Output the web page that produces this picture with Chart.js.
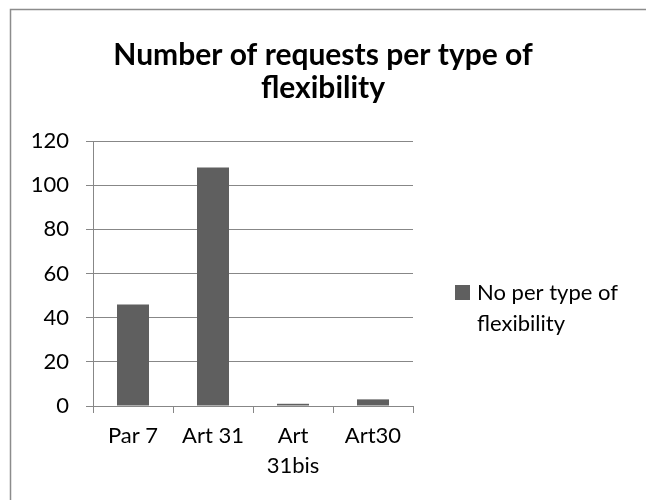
<!DOCTYPE html>
<html>
<head>
<meta charset="utf-8">
<script src="https://cdn.jsdelivr.net/npm/chart.js@4/dist/chart.umd.min.js"></script>
<style>
  html, body { margin: 0; padding: 0; background: #fff; }
  #wrap { position: relative; width: 646px; height: 500px; }
</style>
</head>
<body>
<div id="wrap"><canvas id="chart" width="646" height="500"></canvas></div>
<script>
// Requests per type of flexibility
const categories = [['Par 7'], ['Art 31'], ['Art', '31bis'], ['Art30']];
const requests = [46, 108, 1, 3];
const seriesName = 'No per type of flexibility';
const titleLines = ['Number of requests per type of', 'flexibility'];
const legendLines = ['No per type of', 'flexibility'];
const yTicks = [0, 20, 40, 60, 80, 100, 120];

const FONT = 'Lato, "Open Sans", sans-serif';
const BAR = '#5f5f5f';
const GRID = '#878787';

// Frame lines, title and the side legend
const decorations = {
  id: 'decorations',
  beforeDraw(chart) {
    const ctx = chart.ctx;
    ctx.save();
    ctx.fillStyle = '#fff';
    ctx.fillRect(0, 0, chart.width, chart.height);
    ctx.strokeStyle = '#8c8c8c';
    ctx.lineWidth = 1.5;
    ctx.beginPath();
    ctx.moveTo(10.5, chart.height);
    ctx.lineTo(10.5, 9.5);
    ctx.lineTo(chart.width, 9.5);
    ctx.stroke();
    ctx.restore();
  },
  afterDraw(chart) {
    const ctx = chart.ctx;
    ctx.save();
    ctx.fillStyle = '#000';
    ctx.textAlign = 'center';
    ctx.textBaseline = 'middle';
    ctx.font = 'bold 30px ' + FONT;
    titleLines.forEach((t, i) => ctx.fillText(t, 323, 55 + i * 33));

    const ds = chart.data.datasets[0];
    ctx.fillStyle = ds.backgroundColor;
    ctx.fillRect(455, 285, 15, 15);
    ctx.fillStyle = '#000';
    ctx.textAlign = 'left';
    ctx.font = '22px ' + FONT;
    legendLines.forEach((t, i) => ctx.fillText(t, 477, 293 + i * 31));
    ctx.restore();
  }
};

new Chart(document.getElementById('chart'), {
  type: 'bar',
  data: {
    labels: categories,
    datasets: [{
      label: seriesName,
      data: requests,
      backgroundColor: BAR,
      categoryPercentage: 0.8,
      barPercentage: 0.5
    }]
  },
  options: {
    responsive: false,
    animation: false,
    layout: { padding: { left: 20, right: 233, top: 141, bottom: 20 } },
    plugins: {
      legend: { display: false },
      title: { display: false },
      tooltip: { enabled: false }
    },
    scales: {
      x: {
        grid: { display: true, drawOnChartArea: false, color: GRID, tickLength: 7, offset: true },
        border: { color: GRID, width: 1 },
        ticks: { color: '#000', font: { family: FONT, size: 22, lineHeight: 1.35 }, padding: 8, maxRotation: 0, autoSkip: false },
        afterFit(s) { s.height = 74; }
      },
      y: {
        min: 0,
        max: 120,
        afterBuildTicks(s) { s.ticks = yTicks.map(v => ({ value: v })); },
        grid: { color: GRID, tickLength: 7 },
        border: { color: GRID, width: 1 },
        ticks: { color: '#000', font: { family: FONT, size: 22 }, padding: 17 },
        afterFit(s) { s.width = 73; }
      }
    }
  },
  plugins: [decorations]
});
</script>
</body>
</html>
